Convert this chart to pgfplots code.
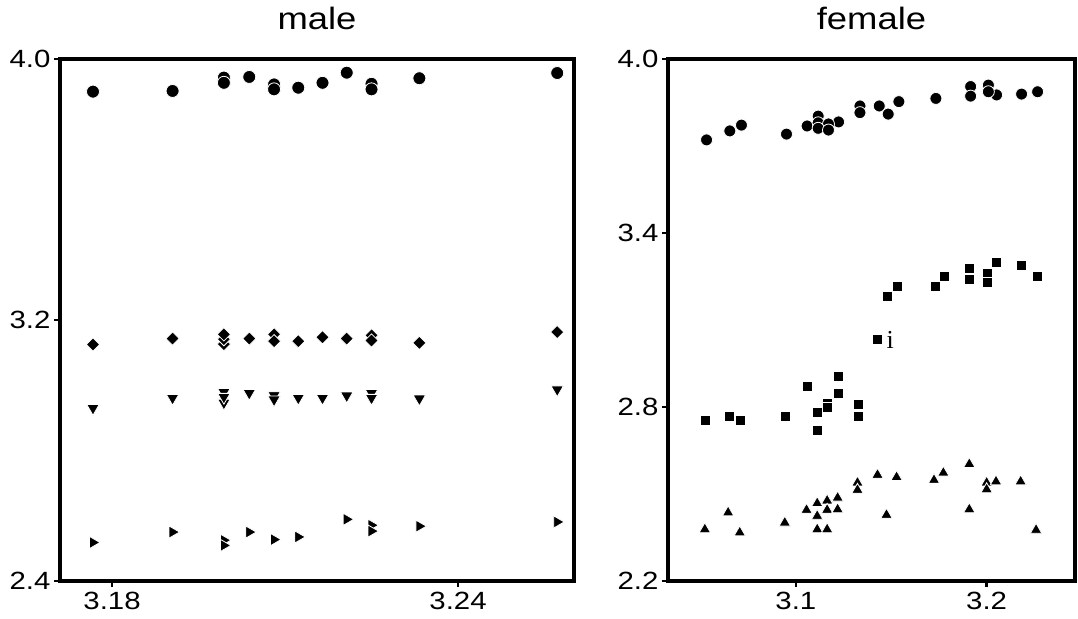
\documentclass[border=0pt]{standalone}
\usepackage{fontspec}
\setmainfont{Liberation Sans}[FakeStretch=1.18]
\newfontfamily\seriffont{Liberation Serif}
\usepackage{pgfplots}
\pgfplotsset{compat=1.18}

\pgfplotsset{
  panel/.style={
    scale only axis, height=522bp,
    axis line style={line width=3.5bp, black},
    every tick/.style={line width=2.5bp, black},
    major tick length=6bp,
    tick align=outside,
    xtick pos=bottom, ytick pos=left,
    ticklabel style={font=\fontsize{25}{25}\selectfont},
    xticklabel style={yshift=-2bp},
    /pgf/number format/assume math mode=true,
    title style={at={(0.5,1)}, anchor=base, yshift=24bp, font=\fontsize{31}{31}\selectfont},
    yticklabel style={/pgf/number format/.cd, fixed, fixed zerofill, precision=1},
  },
  circ/.style={only marks, mark=*, mark size=6.5bp, mark options={fill=black, draw=white, line width=0.8bp}},
  dia/.style={only marks, mark=square*, mark size=4.7bp, mark options={rotate=45, fill=black, draw=white, line width=0.8bp}},
  tdown/.style={only marks, mark=triangle*, mark size=7.2bp, mark options={rotate=180, fill=black, draw=white, line width=0.8bp}},
  tright/.style={only marks, mark=triangle*, mark size=7bp, mark options={rotate=-90, fill=black, draw=white, line width=0.8bp}},
  tup/.style={only marks, mark=triangle*, mark size=6.6bp, mark options={fill=black, draw=white, line width=0.8bp}},
  sq/.style={only marks, mark=square*, mark size=5bp, mark options={fill=black, draw=white, line width=0.8bp}},
}

\begin{document}
\begin{tikzpicture}
\useasboundingbox (0,0) rectangle (1078bp,619bp);

\begin{axis}[panel, at={(60bp,560bp)}, anchor=north west, width=514bp,
  xmin=3.17098, xmax=3.26011, ymin=2.4, ymax=4.0,
  xtick={3.18,3.24}, ytick={2.4,3.2,4.0},
  xticklabel style={/pgf/number format/.cd, fixed, fixed zerofill, precision=2},
  title={male}]
\addplot[circ] coordinates {
(3.1767,3.900) (3.1905,3.902) (3.1994,3.943) (3.1994,3.927) (3.2038,3.945)
(3.2081,3.922) (3.2081,3.907) (3.2123,3.912) (3.2165,3.927) (3.2207,3.958)
(3.2250,3.924) (3.2250,3.907) (3.2333,3.941) (3.2572,3.957)};
\addplot[dia] coordinates {
(3.1767,3.125) (3.1905,3.143) (3.1994,3.126) (3.1994,3.141) (3.1994,3.156)
(3.2038,3.143) (3.2081,3.156) (3.2081,3.135) (3.2123,3.135) (3.2165,3.147)
(3.2207,3.143) (3.2250,3.153) (3.2250,3.137) (3.2333,3.130) (3.2572,3.163)};
\addplot[tdown] coordinates {
(3.1767,2.930) (3.1905,2.961) (3.1994,2.979) (3.1994,2.946) (3.1994,2.964)
(3.2038,2.976) (3.2081,2.969) (3.2081,2.956) (3.2123,2.961) (3.2165,2.961)
(3.2207,2.968) (3.2250,2.976) (3.2250,2.961) (3.2333,2.959) (3.2572,2.987)};
\addplot[tright] coordinates {
(3.1767,2.518) (3.1905,2.550) (3.1994,2.525) (3.1994,2.509) (3.2038,2.550)
(3.2081,2.527) (3.2123,2.535) (3.2207,2.589) (3.2250,2.571) (3.2250,2.553)
(3.2333,2.568) (3.2572,2.581)};
\end{axis}

\begin{axis}[panel, at={(668bp,560bp)}, anchor=north west, width=407bp,
  xmin=3.0330, xmax=3.2463, ymin=2.2, ymax=4.0,
  xtick={3.1,3.2}, ytick={2.2,2.8,3.4,4.0},
  xticklabel style={/pgf/number format/.cd, fixed, precision=1},
  title={female}]
\addplot[circ, mark size=6bp] coordinates {
(3.0532,3.721) (3.0654,3.752) (3.0715,3.772) (3.0951,3.741) (3.1059,3.769)
(3.1117,3.803) (3.1117,3.780) (3.1224,3.783) (3.1171,3.776) (3.1117,3.761)
(3.1171,3.755) (3.1336,3.838) (3.1336,3.815) (3.1437,3.838) (3.1484,3.810)
(3.1540,3.853) (3.1734,3.864) (3.1916,3.905) (3.1916,3.872) (3.2009,3.910)
(3.2052,3.876) (3.2009,3.887) (3.2183,3.879) (3.2267,3.887)};
\addplot[sq] coordinates {
(3.0528,2.753) (3.0650,2.769) (3.0710,2.753) (3.0946,2.767) (3.1059,2.870)
(3.1114,2.782) (3.1114,2.721) (3.1166,2.813) (3.1166,2.799) (3.1222,2.904)
(3.1222,2.847) (3.1327,2.810) (3.1327,2.767) (3.1428,3.033) (3.1481,3.180)
(3.1533,3.215) (3.1729,3.215) (3.1776,3.252) (3.1912,3.278) (3.1912,3.240)
(3.2003,3.259) (3.2003,3.230) (3.2049,3.297) (3.2183,3.288) (3.2267,3.252)};
\addplot[tup] coordinates {
(3.0523,2.378) (3.0645,2.436) (3.0706,2.367) (3.0942,2.401) (3.1056,2.445)
(3.1112,2.468) (3.1112,2.424) (3.1112,2.378) (3.1164,2.477) (3.1164,2.445)
(3.1164,2.378) (3.1219,2.487) (3.1219,2.447) (3.1323,2.539) (3.1323,2.514)
(3.1428,2.566) (3.1475,2.428) (3.1528,2.558) (3.1724,2.548) (3.1773,2.573)
(3.1909,2.603) (3.1909,2.447) (3.2000,2.539) (3.2000,2.516) (3.2049,2.543)
(3.2178,2.543) (3.2259,2.376)};
\node[anchor=base west, inner sep=0pt, xshift=9bp, yshift=-9bp,
  font=\seriffont\fontsize{26}{26}\selectfont] at (axis cs:3.1428,3.033) {i};
\end{axis}
\end{tikzpicture}
\end{document}
